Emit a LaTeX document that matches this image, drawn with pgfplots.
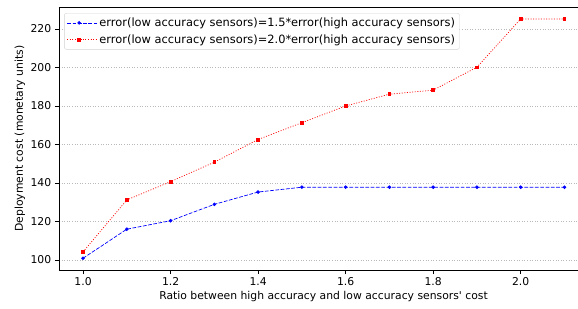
\documentclass[border=0pt]{standalone}
\usepackage{pgfplots}
\pgfplotsset{compat=1.18}
\usepackage{fontspec}
\setmainfont{DejaVu Sans}
\begin{document}
\fontsize{10.8}{12.8}\selectfont
\begin{tikzpicture}
\begin{axis}[
  scale only axis,
  width=519pt, height=263pt,
  xmin=0.945, xmax=2.131,
  ymin=94.8, ymax=231.4,
  axis x line=box, axis y line=left,
  axis line style={-, black, line width=0.8pt},
  xtick pos=bottom, ytick pos=left,
  tick align=outside,
  major tick length=4pt,
  tick style={black, line width=0.6pt},
  xtick={1.0,1.2,1.4,1.6,1.8,2.0},
  ytick={100,120,140,160,180,200,220},
  xticklabel style={/pgf/number format/fixed,/pgf/number format/fixed zerofill,/pgf/number format/precision=1},
  /pgf/number format/assume math mode=true,
  ymajorgrids,
  grid style={dash pattern=on 1pt off 1.6pt, gray!55, line width=0.5pt},
  xlabel={Ratio between high accuracy and low accuracy sensors\textquotesingle\ cost},
  ylabel={Deployment cost (monetary units)},
  xlabel style={xshift=5pt, yshift=2pt},
  ylabel style={yshift=-2pt},
  legend style={at={(0.01,0.977)}, anchor=north west, draw=gray!35, rounded corners=2pt, fill=white, inner sep=2.5pt, row sep=2.5pt, font=\fontsize{11.4}{13.3}\selectfont},
  legend cell align=left,
  legend image code/.code={\draw[mark repeat=2,mark phase=2,#1] plot coordinates {(0cm,0cm) (0.42cm,0cm) (0.84cm,0cm)}; \path (0cm,0cm) -- (1.05cm,0cm);},
]
\coordinate (bl) at (rel axis cs:0,0);
\coordinate (tr) at (rel axis cs:1,1);
\addplot[blue, dash pattern=on 3.7pt off 1.6pt, line width=0.7pt, mark=*, mark size=1.4pt, mark options={solid}] coordinates {
(1.0,100.9) (1.1,116.0) (1.2,120.4) (1.3,128.9) (1.4,135.3) (1.5,137.8) (1.6,137.8) (1.7,137.8) (1.8,137.8) (1.9,137.8) (2.0,137.8) (2.1,137.8)};
\addlegendentry{error(low accuracy sensors)=1.5*error(high accuracy sensors)}
\addplot[red, dash pattern=on 1pt off 1.6pt, line width=0.7pt, mark=square*, mark size=1.4pt, mark options={solid}] coordinates {
(1.0,104.2) (1.1,131.2) (1.2,140.7) (1.3,150.8) (1.4,162.6) (1.5,171.3) (1.6,180.0) (1.7,186.1) (1.8,188.2) (1.9,200.1) (2.0,225.2) (2.1,225.2)};
\addlegendentry{error(low accuracy sensors)=2.0*error(high accuracy sensors)}
\end{axis}
\pgfresetboundingbox
\path ([shift={(-59pt,-38pt)}]bl) rectangle ([shift={(0pt,7pt)}]tr);
\end{tikzpicture}
\end{document}
